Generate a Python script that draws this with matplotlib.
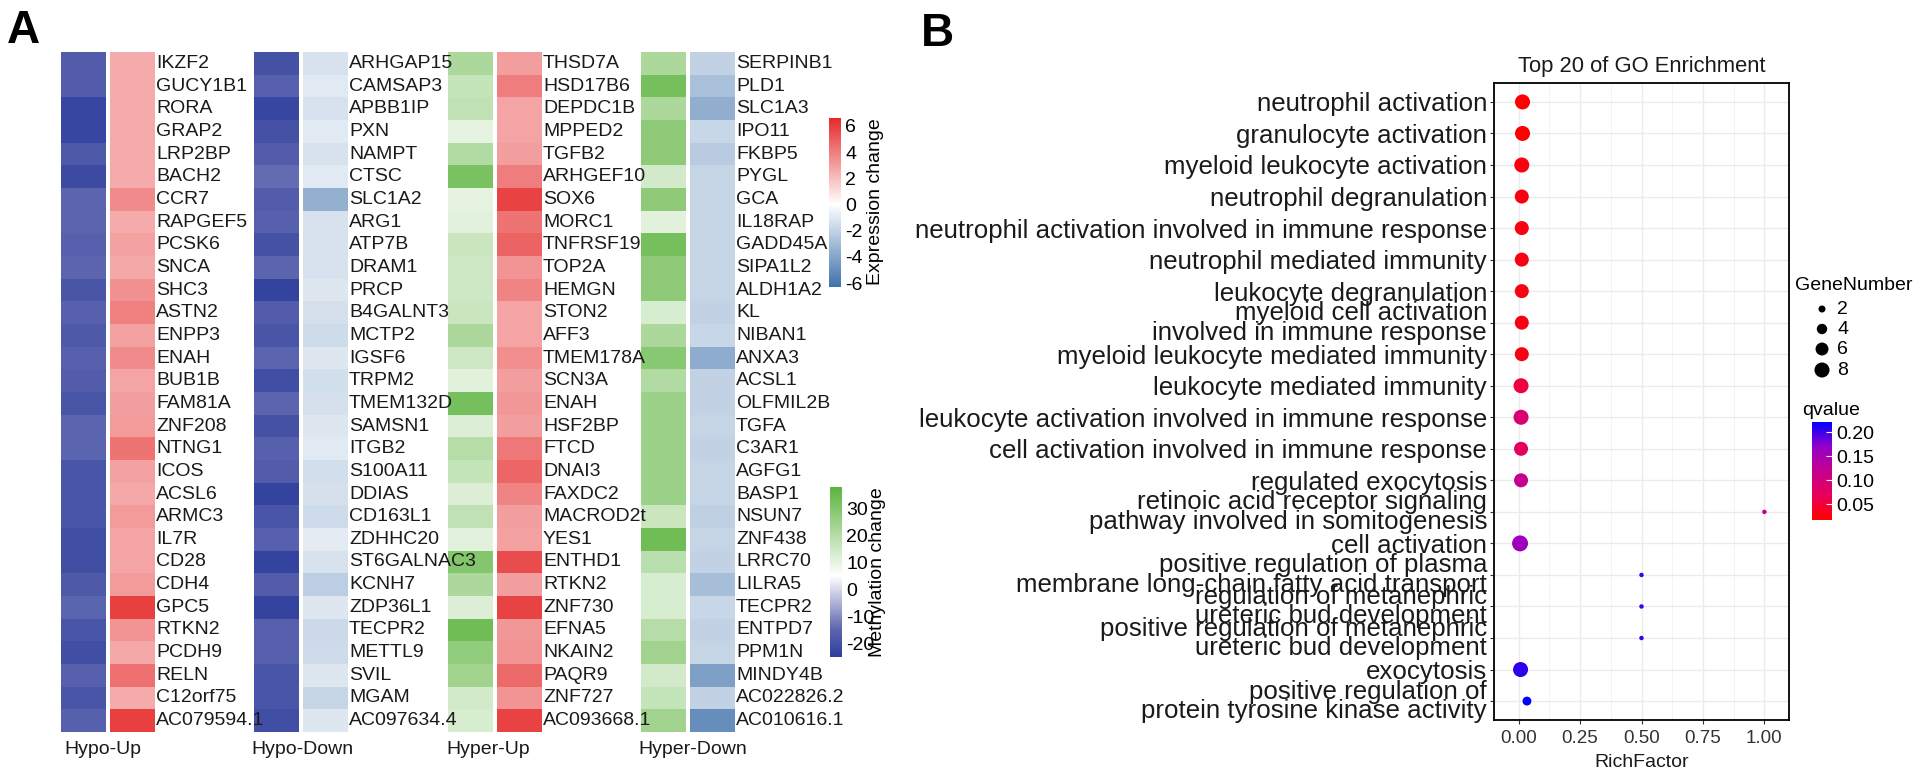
import numpy as np
import matplotlib
matplotlib.use('Agg')
import matplotlib.pyplot as plt
from matplotlib.colors import LinearSegmentedColormap, Normalize
from matplotlib.cm import ScalarMappable
from matplotlib.ticker import FormatStrFormatter

plt.rcParams['font.family'] = ['Liberation Sans', 'DejaVu Sans']
plt.rcParams['axes.unicode_minus'] = False

W, H = 1922, 778

# ---------------- panel A data ----------------
hypo_up_genes = ['IKZF2', 'GUCY1B1', 'RORA', 'GRAP2', 'LRP2BP', 'BACH2', 'CCR7', 'RAPGEF5', 'PCSK6', 'SNCA',
                 'SHC3', 'ASTN2', 'ENPP3', 'ENAH', 'BUB1B', 'FAM81A', 'ZNF208', 'NTNG1', 'ICOS', 'ACSL6',
                 'ARMC3', 'IL7R', 'CD28', 'CDH4', 'GPC5', 'RTKN2', 'PCDH9', 'RELN', 'C12orf75', 'AC079594.1']
hypo_up_meth = [-17, -17, -23, -23, -18, -22, -15, -15, -16, -15, -19, -16, -18, -16, -17,
                -19, -15, -15, -19, -19, -19, -21, -21, -18, -15, -19, -21, -16, -19, -16]
hypo_up_expr = [2.6, 2.6, 2.6, 2.6, 2.6, 2.6, 3.6, 2.6, 2.9, 2.7, 3.4, 3.9, 2.9, 3.6, 2.8,
                3.0, 3.1, 4.3, 2.9, 2.7, 3.1, 2.8, 2.8, 3.1, 5.9, 3.3, 2.7, 4.4, 2.6, 5.9]

hypo_down_genes = ['ARHGAP15', 'CAMSAP3', 'APBB1IP', 'PXN', 'NAMPT', 'CTSC', 'SLC1A2', 'ARG1', 'ATP7B', 'DRAM1',
                   'PRCP', 'B4GALNT3', 'MCTP2', 'IGSF6', 'TRPM2', 'TMEM132D', 'SAMSN1', 'ITGB2', 'S100A11', 'DDIAS',
                   'CD163L1', 'ZDHHC20', 'ST6GALNAC3', 'KCNH7', 'ZDP36L1', 'TECPR2', 'METTL9', 'SVIL', 'MGAM',
                   'AC097634.4']
hypo_down_meth = [-20, -16, -23, -20, -17, -14, -17, -16, -20, -15, -24, -17, -19, -15, -21,
                  -15, -20, -16, -17, -24, -19, -16, -24, -17, -24, -16, -16, -19, -19, -21]
hypo_down_expr = [-1.3, -1.0, -1.3, -1.0, -1.3, -1.0, -3.5, -1.3, -1.3, -1.3, -1.1, -1.4, -1.6, -1.1, -1.5,
                  -1.4, -1.1, -1.0, -1.5, -1.4, -1.6, -0.9, -1.3, -2.2, -1.1, -1.7, -1.6, -1.1, -1.9, -1.1]

hyper_up_genes = ['THSD7A', 'HSD17B6', 'DEPDC1B', 'MPPED2', 'TGFB2', 'ARHGEF10', 'SOX6', 'MORC1', 'TNFRSF19',
                  'TOP2A', 'HEMGN', 'STON2', 'AFF3', 'TMEM178A', 'SCN3A', 'ENAH', 'HSF2BP', 'FTCD', 'DNAI3',
                  'FAXDC2', 'MACROD2t', 'YES1', 'ENTHD1', 'RTKN2', 'ZNF730', 'EFNA5', 'NKAIN2', 'PAQR9', 'ZNF727',
                  'AC093668.1']
hyper_up_meth = [22, 17, 18, 10, 21, 32, 10, 11, 16, 15, 15, 16, 22, 15, 11,
                 33, 12, 20, 17, 12, 18, 11, 30, 22, 12, 34, 27, 24, 14, 13]
hyper_up_expr = [3.0, 4.0, 2.8, 2.8, 3.0, 4.0, 5.8, 4.3, 4.8, 3.3, 3.8, 2.8, 2.8, 3.5, 3.0,
                 3.2, 3.0, 4.2, 4.7, 3.8, 3.0, 2.9, 5.5, 3.0, 5.8, 3.2, 3.3, 4.6, 3.3, 5.8]

hyper_down_genes = ['SERPINB1', 'PLD1', 'SLC1A3', 'IPO11', 'FKBP5', 'PYGL', 'GCA', 'IL18RAP', 'GADD45A',
                    'SIPA1L2', 'ALDH1A2', 'KL', 'NIBAN1', 'ANXA3', 'ACSL1', 'OLFMIL2B', 'TGFA', 'C3AR1', 'AGFG1',
                    'BASP1', 'NSUN7', 'ZNF438', 'LRRC70', 'LILRA5', 'TECPR2', 'ENTPD7', 'PPM1N', 'MINDY4B',
                    'AC022826.2', 'AC010616.1']
hyper_down_meth = [22, 33, 22, 28, 28, 14, 28, 11, 33, 28, 28, 13, 22, 29, 21,
                   25, 25, 25, 25, 25, 16, 34, 19, 13, 13, 20, 24, 14, 17, 24]
hyper_down_expr = [-2.0, -2.8, -3.6, -1.8, -2.3, -1.9, -1.9, -1.9, -1.9, -1.9, -1.9, -2.0, -1.8, -3.7, -2.0,
                   -2.0, -1.9, -2.0, -1.9, -1.9, -2.1, -1.9, -2.0, -2.9, -1.8, -2.0, -1.9, -4.2, -2.0, -5.0]

group_names = ['Hypo-Up', 'Hypo-Down', 'Hyper-Up', 'Hyper-Down']

# ---------------- panel B data ----------------
go_terms = ['neutrophil activation', 'granulocyte activation', 'myeloid leukocyte activation',
            'neutrophil degranulation', 'neutrophil activation involved in immune response',
            'neutrophil mediated immunity', 'leukocyte degranulation',
            'myeloid cell activation\ninvolved in immune response', 'myeloid leukocyte mediated immunity',
            'leukocyte mediated immunity', 'leukocyte activation involved in immune response',
            'cell activation involved in immune response', 'regulated exocytosis',
            'retinoic acid receptor signaling\npathway involved in somitogenesis', 'cell activation',
            'positive regulation of plasma\nmembrane long-chain fatty acid transport',
            'regulation of metanephric\nureteric bud development',
            'positive regulation of metanephric\nureteric bud development', 'exocytosis',
            'positive regulation of\nprotein tyrosine kinase activity']
rich_factor = [0.016, 0.016, 0.013, 0.013, 0.013, 0.013, 0.013, 0.013, 0.013, 0.010,
               0.010, 0.010, 0.010, 1.0, 0.006, 0.5, 0.5, 0.5, 0.008, 0.034]
gene_number = [8, 8, 8, 7, 7, 7, 7, 7, 7, 8, 8, 7, 7, 1, 9, 1, 1, 1, 8, 3]
qvalue = [0.017, 0.018, 0.025, 0.027, 0.027, 0.027, 0.028, 0.028, 0.029, 0.055,
          0.09, 0.075, 0.12, 0.12, 0.16, 0.20, 0.20, 0.20, 0.205, 0.221]
size_breaks = [2, 4, 6, 8]
q_ticks = [0.05, 0.10, 0.15, 0.20]


def frac(x0, y0, x1, y1):
    return [x0 / W, 1 - y1 / H, (x1 - x0) / W, (y1 - y0) / H]


def gsize(n):
    return 0.5184 * (29.4 * np.asarray(n, dtype=float) - 9.4)


fig = plt.figure(figsize=(W / 100, H / 100), dpi=100)
# overlay in pixel coords for free texts and legend keys, drawn on top
over = fig.add_axes([0, 0, 1, 1])
over.set_xlim(0, W)
over.set_ylim(H, 0)
over.axis('off')
over.set_zorder(10)

meth_min, meth_mid, meth_max = -25, 5, 38
meth_cmap = LinearSegmentedColormap.from_list(
    'meth', [(0, '#2E3F9C'), ((-15 - meth_min) / (meth_max - meth_min), '#5C64AE'),
             ((meth_mid - meth_min) / (meth_max - meth_min), '#FFFFFF'), (1, '#5DB43F')])
meth_norm = Normalize(meth_min, meth_max)
expr_min, expr_max = -6.3, 6.6
expr_cmap = LinearSegmentedColormap.from_list(
    'expr', [(0, '#3F72AB'), (-expr_min / (expr_max - expr_min), '#FFFFFF'), (1, '#E52A2A')])
expr_norm = Normalize(expr_min, expr_max)

blocks = [(hypo_up_genes, hypo_up_meth, hypo_up_expr),
          (hypo_down_genes, hypo_down_meth, hypo_down_expr),
          (hyper_up_genes, hyper_up_meth, hyper_up_expr),
          (hyper_down_genes, hyper_down_meth, hyper_down_expr)]
block_x = [61, 254, 448, 641]
label_x = [64, 251, 446, 638]
top, bottom = 52, 732

for i, (genes, meth, expr) in enumerate(blocks):
    x0 = block_x[i]
    for j, (vals, cmap, norm) in enumerate([(meth, meth_cmap, meth_norm), (expr, expr_cmap, expr_norm)]):
        cx = x0 + j * 49
        ax = fig.add_axes(frac(cx, top, cx + 45, bottom))
        ax.pcolormesh(np.array(vals).reshape(-1, 1), cmap=cmap, norm=norm)
        ax.set_ylim(len(vals), 0)
        ax.axis('off')
    row_h = (bottom - top) / len(genes)
    for k, g in enumerate(genes):
        over.text(x0 + 95, top + (k + 0.5) * row_h, g, fontsize=14, ha='left', va='center', color='#1a1a1a')
    over.text(label_x[i], 750, group_names[i], fontsize=14, ha='left', va='center', color='#1a1a1a')

cax1 = fig.add_axes(frac(829, 118, 841, 287))
cb1 = fig.colorbar(ScalarMappable(expr_norm, expr_cmap), cax=cax1, ticks=[-6, -4, -2, 0, 2, 4, 6])
cb1.outline.set_visible(False)
cax1.tick_params(length=0, labelsize=14, pad=3)
over.text(875, 202, 'Expression change', rotation=90, fontsize=14, ha='center', va='center')

cax2 = fig.add_axes(frac(830, 487, 842, 657))
cb2 = fig.colorbar(ScalarMappable(meth_norm, meth_cmap), cax=cax2, ticks=[-20, -10, 0, 10, 20, 30])
cb2.outline.set_visible(False)
cax2.tick_params(length=0, labelsize=14, pad=3)
over.text(878, 572, 'Methylation change', rotation=90, fontsize=14, ha='center', va='center')

over.text(7, 43, 'A', fontsize=33, fontweight='bold', ha='left', va='baseline')
over.text(921, 46, 'B', fontsize=33, fontweight='bold', ha='left', va='baseline')

# ---------------- panel B ----------------
q_cmap = LinearSegmentedColormap.from_list(
    'q', [(0, '#FF0000'), (0.25, '#E8005A'), (0.5, '#C4008F'), (0.75, '#9400C8'), (1, '#0000FF')])
q_norm = Normalize(0.017, 0.221)

axb = fig.add_axes(frac(1494, 83, 1789, 720))
ypos = np.arange(len(go_terms))
axb.set_axisbelow(True)
axb.scatter(rich_factor, ypos, s=gsize(gene_number), c=qvalue, cmap=q_cmap, norm=q_norm,
            edgecolors='none', zorder=3)
axb.set_xlim(-0.1, 1.1)
axb.set_ylim(len(go_terms) - 0.4, -0.6)
axb.set_xticks([0, 0.25, 0.5, 0.75, 1.0])
axb.set_xticks([0.125, 0.375, 0.625, 0.875], minor=True)
axb.xaxis.set_major_formatter(FormatStrFormatter('%.2f'))
axb.set_yticks(ypos)
axb.set_yticklabels(go_terms, fontsize=18.6, linespacing=0.76, color='#1a1a1a')
axb.grid(which='major', color='#EBEBEB', lw=1.0)
axb.grid(which='minor', axis='x', color='#F3F3F3', lw=0.7)
axb.tick_params(axis='x', labelsize=13.5, colors='#333333', length=3, width=0.8, pad=4)
axb.tick_params(axis='x', which='minor', length=0)
axb.tick_params(axis='y', length=3, width=0.8, pad=2, colors='#333333')
for lab in axb.get_yticklabels():
    lab.set_color('#1a1a1a')
for sp in axb.spines.values():
    sp.set_color('black')
    sp.set_linewidth(1.3)
axb.set_xlabel('RichFactor', fontsize=14, color='#1a1a1a', labelpad=5)
axb.set_title('Top 20 of GO Enrichment', fontsize=15.8, color='#1a1a1a', pad=8)

# legends
over.text(1795, 285, 'GeneNumber', fontsize=14, ha='left', va='center')
leg_y = [309, 329, 349, 370]
over.scatter([1822] * len(size_breaks), leg_y, s=gsize(size_breaks), color='black', edgecolors='none')
for yy, n in zip(leg_y, size_breaks):
    over.text(1837, yy, str(n), fontsize=14, ha='left', va='center')

over.text(1802, 410, 'qvalue', fontsize=14, ha='left', va='center')
cax3 = fig.add_axes(frac(1812, 422, 1832, 520))
cb3 = fig.colorbar(ScalarMappable(q_norm, q_cmap), cax=cax3, ticks=q_ticks, format='%.2f')
cb3.outline.set_visible(False)
cax3.tick_params(direction='in', color='white', length=4, width=0.8, labelsize=14, pad=3)

fig.savefig('out.png', dpi=100)
